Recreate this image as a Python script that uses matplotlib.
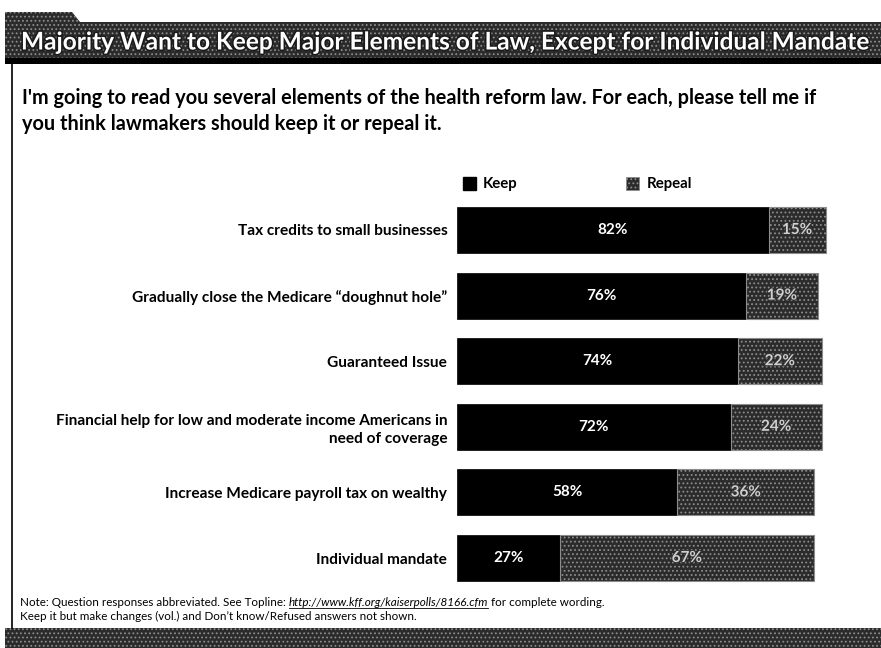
import matplotlib
matplotlib.use("Agg")
import matplotlib.pyplot as plt
from matplotlib.patches import Rectangle, Polygon
import matplotlib.patheffects as pe

plt.rcParams['hatch.linewidth'] = 0.8

categories = [
    "Tax credits to small businesses",
    "Gradually close the Medicare \u201cdoughnut hole\u201d",
    "Guaranteed Issue",
    "Financial help for low and moderate income Americans in\nneed of coverage",
    "Increase Medicare payroll tax on wealthy",
    "Individual mandate",
]
keep = [82, 76, 74, 72, 58, 27]
repeal = [15, 19, 22, 24, 36, 67]

title = "Majority Want to Keep Major Elements of Law, Except for Individual Mandate"
question = ("I'm going to read you several elements of the health reform law. For each, please tell me if\n"
            "you think lawmakers should keep it or repeal it.")
note1_a = "Note: Question responses abbreviated. See Topline: "
note1_url = "http://www.kff.org/kaiserpolls/8166.cfm"
note1_b = " for complete wording."
note2 = "Keep it but make changes (vol.) and Don\u2019t know/Refused answers not shown."

FONT = "Lato"
W, H = 881, 648
fig = plt.figure(figsize=(W / 100, H / 100), dpi=100)
fig.patch.set_facecolor("white")

# full-figure overlay in pixel coordinates (y downwards)
bg = fig.add_axes([0, 0, 1, 1])
bg.set_xlim(0, W)
bg.set_ylim(H, 0)
bg.axis("off")

grain_face = "#2b2b2b"
grain_hatch = "#8c8c8c"

# title banner with tab
bg.add_patch(Polygon([(5, 12), (72, 12), (80, 22), (W, 22), (W, 64), (5, 64)],
                     closed=True, facecolor=grain_face, edgecolor=grain_hatch,
                     hatch="....", linewidth=0))
bg.add_patch(Rectangle((5, 58), W - 5, 6, facecolor="black", edgecolor="none"))
bg.text(445, 42, title, ha="center", va="center", fontsize=17.6, fontweight="bold",
        family=FONT, color="white",
        path_effects=[pe.withStroke(linewidth=2.2, foreground="#1a1a1a")])

# left border of the slide body
bg.plot([12, 12], [64, 628], color="black", lw=1.2)

# bottom band
bg.add_patch(Rectangle((5, 628), W - 5, 20, facecolor=grain_face, edgecolor=grain_hatch,
                       hatch="....", linewidth=0))

# question text
bg.text(22, 111, question, ha="left", va="center", fontsize=14.3, fontweight="bold",
        family=FONT, color="black", linespacing=1.4)

# legend
bg.add_patch(Rectangle((463, 177), 13, 13, facecolor="black", edgecolor="black"))
bg.text(483, 184, "Keep", ha="left", va="center", fontsize=10.8, fontweight="bold",
        family=FONT, color="black")
bg.add_patch(Rectangle((626, 177), 13, 13, facecolor=grain_face, edgecolor=grain_hatch,
                       hatch="....", linewidth=0.6))
bg.text(647, 184, "Repeal", ha="left", va="center", fontsize=10.8, fontweight="bold",
        family=FONT, color="black")

# footnotes
NOTE_FS = 8.4
fig.canvas.draw()
renderer = fig.canvas.get_renderer()
t1 = bg.text(20, 602, note1_a, ha="left", va="center", fontsize=NOTE_FS, family=FONT, color="black")
x_px = t1.get_window_extent(renderer).x1
x_data = bg.transData.inverted().transform((x_px, 0))[0]
t2 = bg.text(x_data, 602, note1_url, ha="left", va="center", fontsize=NOTE_FS, family=FONT,
             color="black", style="italic")
ext2 = t2.get_window_extent(renderer)
x2 = bg.transData.inverted().transform((ext2.x1, 0))[0]
bg.plot([x_data, x2], [608, 608], color="black", lw=0.6)
bg.text(x2, 602, note1_b, ha="left", va="center", fontsize=NOTE_FS, family=FONT, color="black")
bg.text(20, 616, note2, ha="left", va="center", fontsize=NOTE_FS, family=FONT, color="black")

# bar chart
x0 = 457
scale = 3.8          # pixels per percentage point
row_top, row_gap = 230, 65.6
n = len(categories)
ax_bottom_px = row_top + (n - 0.5) * row_gap
ax_top_px = row_top - 0.5 * row_gap
ax = fig.add_axes([x0 / W, (H - ax_bottom_px) / H, 100 * scale / W,
                   (ax_bottom_px - ax_top_px) / H])
ax.set_xlim(0, 100)
ax.set_ylim(n - 0.5, -0.5)
ax.patch.set_alpha(0)
for s in ax.spines.values():
    s.set_visible(False)
ax.set_xticks([])

ys = list(range(n))
ax.barh(ys, keep, height=0.7, color="black", edgecolor="black", linewidth=0.5)
ax.barh(ys, repeal, left=keep, height=0.7, color=grain_face, edgecolor=grain_hatch,
        hatch="....", linewidth=0.8)

for y, k, r in zip(ys, keep, repeal):
    ax.text(k / 2, y, f"{k}%", ha="center", va="center", color="white",
            fontsize=11, fontweight="bold", family=FONT)
    ax.text(k + r / 2, y, f"{r}%", ha="center", va="center", color="#d0d0d0",
            fontsize=11, fontweight="bold", family=FONT,
            path_effects=[pe.withStroke(linewidth=1.5, foreground="#333333")])

ax.set_yticks(ys)
ax.set_yticklabels(categories, fontsize=11.1, fontweight="bold", family=FONT,
                   ha="right", linespacing=1.35)
ax.tick_params(axis="y", length=0, pad=7)

fig.savefig("out.png", dpi=100, facecolor="white")
